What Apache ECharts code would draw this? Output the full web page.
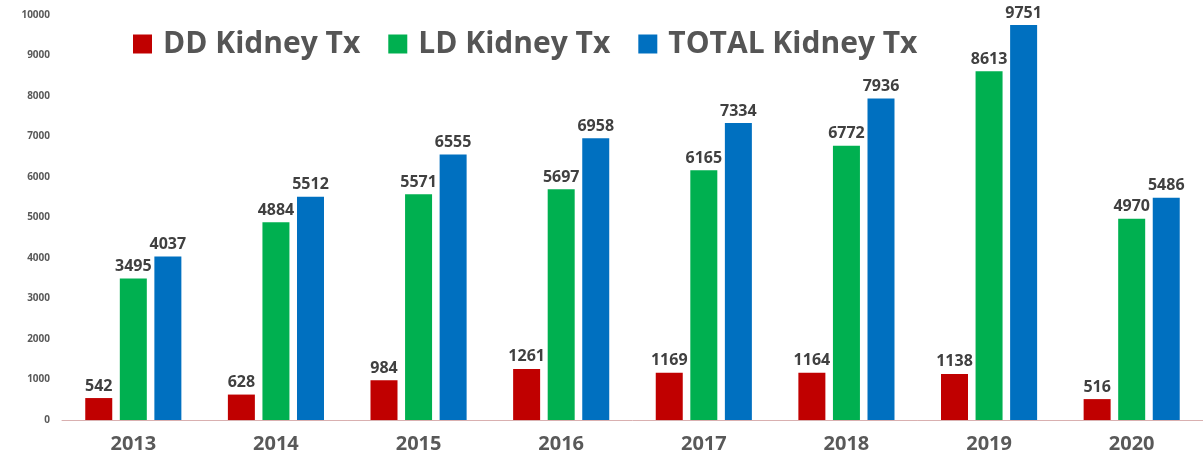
<!DOCTYPE html>
<html>
<head>
<meta charset="utf-8">
<script src="https://cdn.jsdelivr.net/npm/echarts@6/dist/echarts.min.js"></script>
<style>
  html, body { margin: 0; padding: 0; background: #fff; }
  #chart { width: 1203px; height: 467px; }
</style>
</head>
<body>
<div id="chart"></div>
<script>
const years = ['2013', '2014', '2015', '2016', '2017', '2018', '2019', '2020']
const ddKidney = [542, 628, 984, 1261, 1169, 1164, 1138, 516]
const ldKidney = [3495, 4884, 5571, 5697, 6165, 6772, 8613, 4970]
const totalKidney = [4037, 5512, 6555, 6958, 7334, 7936, 9751, 5486]

const chart = echarts.init(document.getElementById('chart'))

const label = {
  show: true,
  position: 'top',
  distance: 4,
  color: '#404040',
  fontSize: 16,
  fontWeight: 'bold',
  fontFamily: 'Open Sans'
}

chart.setOption({
  animation: false,
  textStyle: { fontFamily: 'Open Sans' },
  legend: {
    top: 24,
    left: 128,
    itemWidth: 19,
    itemHeight: 19,
    itemGap: 28,
    icon: 'rect',
    textStyle: { fontSize: 30, fontWeight: 'bold', color: '#555555', padding: [0, 0, 0, 6] },
    data: ['DD Kidney Tx', 'LD Kidney Tx', 'TOTAL Kidney Tx']
  },
  grid: {
    left: 62,
    right: -2,
    top: 15,
    bottom: 47
  },
  xAxis: {
    type: 'category',
    data: years,
    axisLine: { lineStyle: { color: '#d9b0b0', width: 1 } },
    axisTick: { show: false },
    axisLabel: { color: '#595959', fontSize: 20, fontWeight: 'bold', margin: 14 }
  },
  yAxis: {
    type: 'value',
    min: 0,
    max: 10000,
    interval: 1000,
    axisLine: { show: false },
    axisTick: { show: false },
    splitLine: { show: false },
    axisLabel: {
      color: '#595959',
      fontSize: 10,
      fontWeight: 'bold',
      margin: 12,
      formatter: v => String(v)
    }
  },
  series: [{
    name: 'DD Kidney Tx',
    type: 'bar',
    data: ddKidney,
    barWidth: 27,
    barGap: '28%',
    itemStyle: { color: '#C00000' },
    label
  }, {
    name: 'LD Kidney Tx',
    type: 'bar',
    data: ldKidney,
    barWidth: 27,
    barGap: '28%',
    itemStyle: { color: '#00B050' },
    label
  }, {
    name: 'TOTAL Kidney Tx',
    type: 'bar',
    data: totalKidney,
    barWidth: 27,
    barGap: '28%',
    itemStyle: { color: '#0070C0' },
    label
  }]
})
</script>
</body>
</html>
